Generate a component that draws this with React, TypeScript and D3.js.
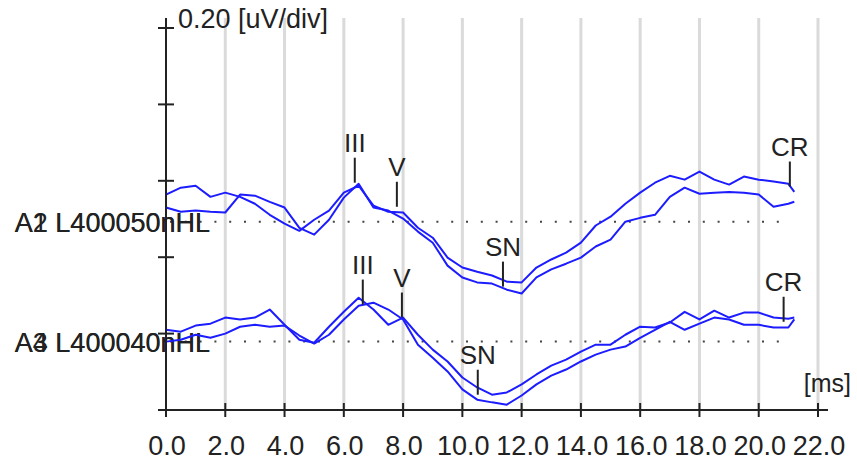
import * as d3 from "d3";

const WIDTH = 857;
const HEIGHT = 463;

// sample times (ms)
const timesMs = [
  0, 0.5, 1, 1.5, 2, 2.5, 3, 3.5, 4, 4.5, 5, 5.5, 6, 6.5, 7, 7.5, 8, 8.5, 9, 9.5, 10,
  10.5, 11, 11.5, 12, 12.5, 13, 13.5, 14, 14.5, 15, 15.5, 16, 16.5, 17, 17.5, 18, 18.5,
  19, 19.5, 20, 20.5, 21, 21.2,
];

// amplitudes in uV, relative to each channel's baseline
const ch1TraceA = [
  0.071, 0.089, 0.094, 0.065, 0.076, 0.065, 0.047, 0.018, -0.005, -0.024, 0.005, 0.029,
  0.076, 0.094, 0.042, 0.026, 0.024, -0.016, -0.042, -0.094, -0.12, -0.131, -0.141,
  -0.157, -0.159, -0.12, -0.099, -0.081, -0.055, -0.01, 0.013, 0.047, 0.076, 0.102, 0.12,
  0.11, 0.131, 0.11, 0.097, 0.118, 0.11, 0.105, 0.099, 0.078,
];
const ch1TraceB = [
  0.037, 0.026, 0.029, 0.026, 0.024, 0.071, 0.068, 0.052, 0.037, -0.016, -0.034, 0.005,
  0.063, 0.099, 0.037, 0.029, 0.008, -0.026, -0.055, -0.115, -0.146, -0.159, -0.162,
  -0.178, -0.188, -0.146, -0.125, -0.11, -0.094, -0.065, -0.047, 0, 0.01, 0.018, 0.065,
  0.089, 0.073, 0.076, 0.078, 0.076, 0.071, 0.039, 0.047, 0.052,
];
const ch2TraceA = [
  0.031, 0.026, 0.042, 0.047, 0.063, 0.058, 0.063, 0.084, 0.044, 0.005, -0.003, 0.039,
  0.078, 0.115, 0.084, 0.044, 0.063, 0.018, -0.021, -0.052, -0.094, -0.12, -0.139,
  -0.133, -0.112, -0.086, -0.063, -0.047, -0.026, -0.008, -0.008, 0.018, 0.039, 0.037,
  0.05, 0.078, 0.058, 0.081, 0.063, 0.076, 0.076, 0.063, 0.06, 0.063,
];
const ch2TraceB = [
  0, 0.005, 0.018, 0.01, 0.021, 0.039, 0.044, 0.039, 0.042, 0.016, -0.005, 0.018, 0.058,
  0.094, 0.102, 0.084, 0.058, -0.008, -0.042, -0.078, -0.125, -0.152, -0.159, -0.165,
  -0.141, -0.112, -0.089, -0.073, -0.052, -0.034, -0.021, -0.013, 0.01, 0.031, 0.052,
  0.031, 0.047, 0.063, 0.058, 0.044, 0.044, 0.037, 0.037, 0.058,
];

const channelBaselines = [0.493, 0.179];
const channelLabels = [
  ["A1 L400050nHL", "A2 L400050nHL"],
  ["A3 L400040nHL", "A4 L400040nHL"],
];

// peak markers
const peakLabels = ["III", "V", "SN", "CR", "III", "V", "SN", "CR"];
const peakChannel = [0, 0, 0, 0, 1, 1, 1, 1];
const peakTimes = [6.37, 7.79, 11.37, 21.05, 6.64, 7.96, 10.52, 20.84];
const peakValues = [0.102, 0.039, -0.17, 0.092, 0.097, 0.063, -0.139, 0.052];

const xTicks = [0, 2, 4, 6, 8, 10, 12, 14, 16, 18, 20, 22];
const yTicks = [0, 0.2, 0.4, 0.6, 0.8, 1.0];

const FONT = "'Liberation Sans', Arial, sans-serif";
const TRACE = "#1c1cff";
const INK = "#222";

export default function App() {
  const x = d3.scaleLinear().domain([0, 22]).range([166, 818]);
  const y = d3.scaleLinear().domain([0, 1]).range([410, 28]);

  const traces = [
    { ch: 0, vals: ch1TraceA },
    { ch: 0, vals: ch1TraceB },
    { ch: 1, vals: ch2TraceA },
    { ch: 1, vals: ch2TraceB },
  ];

  const line = (vals: number[], base: number) =>
    d3
      .line<number>()
      .x((_, i) => x(timesMs[i]))
      .y((v) => y(base + v))(vals) as string;

  return (
    <svg
      width={WIDTH}
      height={HEIGHT}
      style={{ position: "fixed", left: 0, top: 0, background: "#fff" }}
      fontFamily={FONT}
    >
      {/* grid */}
      {xTicks.slice(1).map((t) => (
        <line key={"g" + t} x1={x(t)} x2={x(t)} y1={18} y2={y(0)} stroke="#dadada" strokeWidth={3} />
      ))}

      {/* baselines */}
      {channelBaselines.map((b, i) => (
        <line
          key={"b" + i}
          x1={x(0) + 4}
          x2={x(21)}
          y1={y(b)}
          y2={y(b)}
          stroke="#444"
          strokeWidth={2}
          strokeDasharray="2 12.8"
        />
      ))}

      {/* channel labels (overlapping pairs) */}
      {channelLabels.map((pair, i) =>
        pair.map((lab) => (
          <text
            key={lab}
            x={210}
            y={y(channelBaselines[i]) + 10}
            textAnchor="end"
            fontSize={27}
            fill={INK}
          >
            {lab}
          </text>
        ))
      )}

      {/* traces */}
      {traces.map((tr, i) => (
        <path
          key={"t" + i}
          d={line(tr.vals, channelBaselines[tr.ch])}
          fill="none"
          stroke={TRACE}
          strokeWidth={2}
          strokeLinejoin="round"
        />
      ))}

      {/* axes */}
      <line x1={x(0)} x2={x(0)} y1={18} y2={y(0)} stroke={INK} strokeWidth={2} />
      {yTicks.map((t) => (
        <line key={"yt" + t} x1={x(0) - 8} x2={x(0) + 8} y1={y(t)} y2={y(t)} stroke={INK} strokeWidth={2} />
      ))}
      <line x1={160} x2={828} y1={y(0)} y2={y(0)} stroke={INK} strokeWidth={2} />
      {xTicks.map((t) => (
        <g key={"xt" + t}>
          <line x1={x(t)} x2={x(t)} y1={y(0) - 7} y2={y(0) + 7} stroke={INK} strokeWidth={2} />
          <text x={x(t) + 1} y={455} textAnchor="middle" fontSize={27} fill={INK}>
            {t.toFixed(1)}
          </text>
        </g>
      ))}

      <text x={178} y={28} fontSize={27} fill={INK}>
        0.20 [uV/div]
      </text>
      <text x={851} y={392} textAnchor="end" fontSize={25} fill={INK}>
        [ms]
      </text>

      {/* peak markers */}
      {peakLabels.map((lab, i) => {
        const px = x(peakTimes[i]);
        const py = y(channelBaselines[peakChannel[i]] + peakValues[i]);
        return (
          <g key={"p" + i}>
            <line x1={px} x2={px} y1={py} y2={py - 25} stroke={INK} strokeWidth={2} />
            <text x={px} y={py - 31} textAnchor="middle" fontSize={26} fill={INK}>
              {lab}
            </text>
          </g>
        );
      })}
    </svg>
  );
}
